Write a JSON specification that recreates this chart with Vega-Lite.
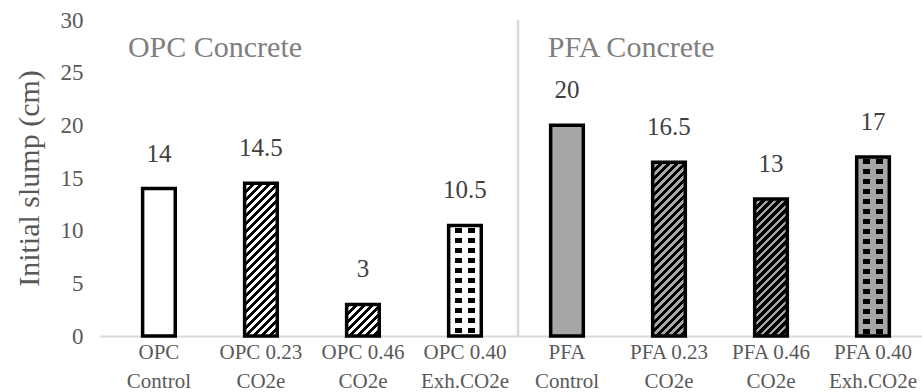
{
  "$schema": "https://vega.github.io/schema/vega-lite/v6.json",
  "width": 822,
  "height": 316,
  "autosize": {"type": "none"},
  "padding": {"left": 100, "top": 20, "right": 0, "bottom": 56},
  "background": "white",
  "config": {
    "view": {"stroke": null},
    "axis": {"grid": false, "ticks": false}
  },
  "params": [
    {"name": "fineStops", "value": [
      {"offset": 0, "color": "black"}, {"offset": 0.0148, "color": "black"}, {"offset": 0.0148, "color": "transparent"}, {"offset": 0.037, "color": "transparent"},
      {"offset": 0.037, "color": "black"}, {"offset": 0.0518, "color": "black"}, {"offset": 0.0518, "color": "transparent"}, {"offset": 0.0741, "color": "transparent"},
      {"offset": 0.0741, "color": "black"}, {"offset": 0.0889, "color": "black"}, {"offset": 0.0889, "color": "transparent"}, {"offset": 0.1111, "color": "transparent"},
      {"offset": 0.1111, "color": "black"}, {"offset": 0.1259, "color": "black"}, {"offset": 0.1259, "color": "transparent"}, {"offset": 0.1481, "color": "transparent"},
      {"offset": 0.1481, "color": "black"}, {"offset": 0.1629, "color": "black"}, {"offset": 0.1629, "color": "transparent"}, {"offset": 0.1852, "color": "transparent"},
      {"offset": 0.1852, "color": "black"}, {"offset": 0.2, "color": "black"}, {"offset": 0.2, "color": "transparent"}, {"offset": 0.2222, "color": "transparent"},
      {"offset": 0.2222, "color": "black"}, {"offset": 0.237, "color": "black"}, {"offset": 0.237, "color": "transparent"}, {"offset": 0.2593, "color": "transparent"},
      {"offset": 0.2593, "color": "black"}, {"offset": 0.2741, "color": "black"}, {"offset": 0.2741, "color": "transparent"}, {"offset": 0.2963, "color": "transparent"},
      {"offset": 0.2963, "color": "black"}, {"offset": 0.3111, "color": "black"}, {"offset": 0.3111, "color": "transparent"}, {"offset": 0.3333, "color": "transparent"},
      {"offset": 0.3333, "color": "black"}, {"offset": 0.3481, "color": "black"}, {"offset": 0.3481, "color": "transparent"}, {"offset": 0.3704, "color": "transparent"},
      {"offset": 0.3704, "color": "black"}, {"offset": 0.3852, "color": "black"}, {"offset": 0.3852, "color": "transparent"}, {"offset": 0.4074, "color": "transparent"},
      {"offset": 0.4074, "color": "black"}, {"offset": 0.4222, "color": "black"}, {"offset": 0.4222, "color": "transparent"}, {"offset": 0.4444, "color": "transparent"},
      {"offset": 0.4444, "color": "black"}, {"offset": 0.4592, "color": "black"}, {"offset": 0.4592, "color": "transparent"}, {"offset": 0.4815, "color": "transparent"},
      {"offset": 0.4815, "color": "black"}, {"offset": 0.4963, "color": "black"}, {"offset": 0.4963, "color": "transparent"}, {"offset": 0.5185, "color": "transparent"},
      {"offset": 0.5185, "color": "black"}, {"offset": 0.5333, "color": "black"}, {"offset": 0.5333, "color": "transparent"}, {"offset": 0.5556, "color": "transparent"},
      {"offset": 0.5556, "color": "black"}, {"offset": 0.5704, "color": "black"}, {"offset": 0.5704, "color": "transparent"}, {"offset": 0.5926, "color": "transparent"},
      {"offset": 0.5926, "color": "black"}, {"offset": 0.6074, "color": "black"}, {"offset": 0.6074, "color": "transparent"}, {"offset": 0.6296, "color": "transparent"},
      {"offset": 0.6296, "color": "black"}, {"offset": 0.6444, "color": "black"}, {"offset": 0.6444, "color": "transparent"}, {"offset": 0.6667, "color": "transparent"},
      {"offset": 0.6667, "color": "black"}, {"offset": 0.6815, "color": "black"}, {"offset": 0.6815, "color": "transparent"}, {"offset": 0.7037, "color": "transparent"},
      {"offset": 0.7037, "color": "black"}, {"offset": 0.7185, "color": "black"}, {"offset": 0.7185, "color": "transparent"}, {"offset": 0.7407, "color": "transparent"},
      {"offset": 0.7407, "color": "black"}, {"offset": 0.7555, "color": "black"}, {"offset": 0.7555, "color": "transparent"}, {"offset": 0.7778, "color": "transparent"},
      {"offset": 0.7778, "color": "black"}, {"offset": 0.7926, "color": "black"}, {"offset": 0.7926, "color": "transparent"}, {"offset": 0.8148, "color": "transparent"},
      {"offset": 0.8148, "color": "black"}, {"offset": 0.8296, "color": "black"}, {"offset": 0.8296, "color": "transparent"}, {"offset": 0.8519, "color": "transparent"},
      {"offset": 0.8519, "color": "black"}, {"offset": 0.8667, "color": "black"}, {"offset": 0.8667, "color": "transparent"}, {"offset": 0.8889, "color": "transparent"},
      {"offset": 0.8889, "color": "black"}, {"offset": 0.9037, "color": "black"}, {"offset": 0.9037, "color": "transparent"}, {"offset": 0.9259, "color": "transparent"},
      {"offset": 0.9259, "color": "black"}, {"offset": 0.9407, "color": "black"}, {"offset": 0.9407, "color": "transparent"}, {"offset": 0.963, "color": "transparent"},
      {"offset": 0.963, "color": "black"}, {"offset": 0.9778, "color": "black"}, {"offset": 0.9778, "color": "transparent"}, {"offset": 1, "color": "transparent"}
    ]},
    {"name": "boldStops", "value": [
      {"offset": 0, "color": "black"}, {"offset": 0.0222, "color": "black"}, {"offset": 0.0222, "color": "transparent"}, {"offset": 0.037, "color": "transparent"},
      {"offset": 0.037, "color": "black"}, {"offset": 0.0592, "color": "black"}, {"offset": 0.0592, "color": "transparent"}, {"offset": 0.0741, "color": "transparent"},
      {"offset": 0.0741, "color": "black"}, {"offset": 0.0963, "color": "black"}, {"offset": 0.0963, "color": "transparent"}, {"offset": 0.1111, "color": "transparent"},
      {"offset": 0.1111, "color": "black"}, {"offset": 0.1333, "color": "black"}, {"offset": 0.1333, "color": "transparent"}, {"offset": 0.1481, "color": "transparent"},
      {"offset": 0.1481, "color": "black"}, {"offset": 0.1703, "color": "black"}, {"offset": 0.1703, "color": "transparent"}, {"offset": 0.1852, "color": "transparent"},
      {"offset": 0.1852, "color": "black"}, {"offset": 0.2074, "color": "black"}, {"offset": 0.2074, "color": "transparent"}, {"offset": 0.2222, "color": "transparent"},
      {"offset": 0.2222, "color": "black"}, {"offset": 0.2444, "color": "black"}, {"offset": 0.2444, "color": "transparent"}, {"offset": 0.2593, "color": "transparent"},
      {"offset": 0.2593, "color": "black"}, {"offset": 0.2815, "color": "black"}, {"offset": 0.2815, "color": "transparent"}, {"offset": 0.2963, "color": "transparent"},
      {"offset": 0.2963, "color": "black"}, {"offset": 0.3185, "color": "black"}, {"offset": 0.3185, "color": "transparent"}, {"offset": 0.3333, "color": "transparent"},
      {"offset": 0.3333, "color": "black"}, {"offset": 0.3555, "color": "black"}, {"offset": 0.3555, "color": "transparent"}, {"offset": 0.3704, "color": "transparent"},
      {"offset": 0.3704, "color": "black"}, {"offset": 0.3926, "color": "black"}, {"offset": 0.3926, "color": "transparent"}, {"offset": 0.4074, "color": "transparent"},
      {"offset": 0.4074, "color": "black"}, {"offset": 0.4296, "color": "black"}, {"offset": 0.4296, "color": "transparent"}, {"offset": 0.4444, "color": "transparent"},
      {"offset": 0.4444, "color": "black"}, {"offset": 0.4666, "color": "black"}, {"offset": 0.4666, "color": "transparent"}, {"offset": 0.4815, "color": "transparent"},
      {"offset": 0.4815, "color": "black"}, {"offset": 0.5037, "color": "black"}, {"offset": 0.5037, "color": "transparent"}, {"offset": 0.5185, "color": "transparent"},
      {"offset": 0.5185, "color": "black"}, {"offset": 0.5407, "color": "black"}, {"offset": 0.5407, "color": "transparent"}, {"offset": 0.5556, "color": "transparent"},
      {"offset": 0.5556, "color": "black"}, {"offset": 0.5778, "color": "black"}, {"offset": 0.5778, "color": "transparent"}, {"offset": 0.5926, "color": "transparent"},
      {"offset": 0.5926, "color": "black"}, {"offset": 0.6148, "color": "black"}, {"offset": 0.6148, "color": "transparent"}, {"offset": 0.6296, "color": "transparent"},
      {"offset": 0.6296, "color": "black"}, {"offset": 0.6518, "color": "black"}, {"offset": 0.6518, "color": "transparent"}, {"offset": 0.6667, "color": "transparent"},
      {"offset": 0.6667, "color": "black"}, {"offset": 0.6889, "color": "black"}, {"offset": 0.6889, "color": "transparent"}, {"offset": 0.7037, "color": "transparent"},
      {"offset": 0.7037, "color": "black"}, {"offset": 0.7259, "color": "black"}, {"offset": 0.7259, "color": "transparent"}, {"offset": 0.7407, "color": "transparent"},
      {"offset": 0.7407, "color": "black"}, {"offset": 0.7629, "color": "black"}, {"offset": 0.7629, "color": "transparent"}, {"offset": 0.7778, "color": "transparent"},
      {"offset": 0.7778, "color": "black"}, {"offset": 0.8, "color": "black"}, {"offset": 0.8, "color": "transparent"}, {"offset": 0.8148, "color": "transparent"},
      {"offset": 0.8148, "color": "black"}, {"offset": 0.837, "color": "black"}, {"offset": 0.837, "color": "transparent"}, {"offset": 0.8519, "color": "transparent"},
      {"offset": 0.8519, "color": "black"}, {"offset": 0.8741, "color": "black"}, {"offset": 0.8741, "color": "transparent"}, {"offset": 0.8889, "color": "transparent"},
      {"offset": 0.8889, "color": "black"}, {"offset": 0.9111, "color": "black"}, {"offset": 0.9111, "color": "transparent"}, {"offset": 0.9259, "color": "transparent"},
      {"offset": 0.9259, "color": "black"}, {"offset": 0.9481, "color": "black"}, {"offset": 0.9481, "color": "transparent"}, {"offset": 0.963, "color": "transparent"},
      {"offset": 0.963, "color": "black"}, {"offset": 0.9852, "color": "black"}, {"offset": 0.9852, "color": "transparent"}, {"offset": 1, "color": "transparent"}
    ]},
    {"name": "rowStops", "value": [
      {"offset": 0, "color": "transparent"},
      {"offset": 0.0139, "color": "transparent"}, {"offset": 0.0139, "color": "black"}, {"offset": 0.0417, "color": "black"}, {"offset": 0.0417, "color": "transparent"},
      {"offset": 0.0695, "color": "transparent"}, {"offset": 0.0695, "color": "black"}, {"offset": 0.0973, "color": "black"}, {"offset": 0.0973, "color": "transparent"},
      {"offset": 0.125, "color": "transparent"}, {"offset": 0.125, "color": "black"}, {"offset": 0.1528, "color": "black"}, {"offset": 0.1528, "color": "transparent"},
      {"offset": 0.1806, "color": "transparent"}, {"offset": 0.1806, "color": "black"}, {"offset": 0.2084, "color": "black"}, {"offset": 0.2084, "color": "transparent"},
      {"offset": 0.2361, "color": "transparent"}, {"offset": 0.2361, "color": "black"}, {"offset": 0.2639, "color": "black"}, {"offset": 0.2639, "color": "transparent"},
      {"offset": 0.2917, "color": "transparent"}, {"offset": 0.2917, "color": "black"}, {"offset": 0.3195, "color": "black"}, {"offset": 0.3195, "color": "transparent"},
      {"offset": 0.3472, "color": "transparent"}, {"offset": 0.3472, "color": "black"}, {"offset": 0.375, "color": "black"}, {"offset": 0.375, "color": "transparent"},
      {"offset": 0.4028, "color": "transparent"}, {"offset": 0.4028, "color": "black"}, {"offset": 0.4306, "color": "black"}, {"offset": 0.4306, "color": "transparent"},
      {"offset": 0.4583, "color": "transparent"}, {"offset": 0.4583, "color": "black"}, {"offset": 0.4861, "color": "black"}, {"offset": 0.4861, "color": "transparent"},
      {"offset": 0.5139, "color": "transparent"}, {"offset": 0.5139, "color": "black"}, {"offset": 0.5417, "color": "black"}, {"offset": 0.5417, "color": "transparent"},
      {"offset": 0.5695, "color": "transparent"}, {"offset": 0.5695, "color": "black"}, {"offset": 0.5973, "color": "black"}, {"offset": 0.5973, "color": "transparent"},
      {"offset": 0.625, "color": "transparent"}, {"offset": 0.625, "color": "black"}, {"offset": 0.6528, "color": "black"}, {"offset": 0.6528, "color": "transparent"},
      {"offset": 0.6806, "color": "transparent"}, {"offset": 0.6806, "color": "black"}, {"offset": 0.7084, "color": "black"}, {"offset": 0.7084, "color": "transparent"},
      {"offset": 0.7361, "color": "transparent"}, {"offset": 0.7361, "color": "black"}, {"offset": 0.7639, "color": "black"}, {"offset": 0.7639, "color": "transparent"},
      {"offset": 0.7917, "color": "transparent"}, {"offset": 0.7917, "color": "black"}, {"offset": 0.8195, "color": "black"}, {"offset": 0.8195, "color": "transparent"},
      {"offset": 0.8472, "color": "transparent"}, {"offset": 0.8472, "color": "black"}, {"offset": 0.875, "color": "black"}, {"offset": 0.875, "color": "transparent"},
      {"offset": 0.9028, "color": "transparent"}, {"offset": 0.9028, "color": "black"}, {"offset": 0.9306, "color": "black"}, {"offset": 0.9306, "color": "transparent"},
      {"offset": 0.9583, "color": "transparent"}, {"offset": 0.9583, "color": "black"}, {"offset": 0.9861, "color": "black"}, {"offset": 0.9861, "color": "transparent"},
      {"offset": 1, "color": "transparent"}
    ]}
  ],
  "data": {"values": [
    {"group": "OPC", "mix": "OPC Control", "slump": 14},
    {"group": "OPC", "mix": "OPC 0.23 CO2e", "slump": 14.5},
    {"group": "OPC", "mix": "OPC 0.46 CO2e", "slump": 3},
    {"group": "OPC", "mix": "OPC 0.40 Exh.CO2e", "slump": 10.5},
    {"group": "PFA", "mix": "PFA Control", "slump": 20},
    {"group": "PFA", "mix": "PFA 0.23 CO2e", "slump": 16.5},
    {"group": "PFA", "mix": "PFA 0.46 CO2e", "slump": 13},
    {"group": "PFA", "mix": "PFA 0.40 Exh.CO2e", "slump": 17}
  ]},
  "encoding": {
    "x": {
      "field": "mix", "type": "nominal", "sort": null,
      "scale": {
        "domain": ["OPC Control", "OPC 0.23 CO2e", "OPC 0.46 CO2e", "OPC 0.40 Exh.CO2e", "PFA Control", "PFA 0.23 CO2e", "PFA 0.46 CO2e", "PFA 0.40 Exh.CO2e"],
        "paddingInner": 0.68, "paddingOuter": 0.369, "align": 0.566, "round": false
      },
      "axis": {
        "title": null, "labelAngle": 0, "labelFontSize": 21, "labelColor": "#595959", "labelFont": "Liberation Serif",
        "labelLineHeight": 29, "labelPadding": 5, "domainColor": "#d9d9d9", "domainWidth": 2,
        "labelExpr": "[slice(datum.value, 0, lastindexof(datum.value, ' ')), slice(datum.value, lastindexof(datum.value, ' ') + 1)]"
      }
    },
    "y": {
      "field": "slump", "type": "quantitative",
      "scale": {"domain": [0, 30], "nice": false},
      "axis": {
        "title": "Initial slump (cm)", "values": [0, 5, 10, 15, 20, 25, 30], "domain": false,
        "labelFontSize": 23, "labelColor": "#595959", "labelPadding": 17, "labelFont": "Liberation Serif",
        "titleFontSize": 30, "titleFontWeight": "normal", "titleColor": "#595959", "titlePadding": 16, "titleFont": "Liberation Serif"
      }
    }
  },
  "layer": [
    {
      "mark": {"type": "bar"},
      "encoding": {
        "fill": {"condition": {"test": "datum.group == 'PFA'", "value": "#a6a6a6"}, "value": "white"}
      }
    },
    {
      "transform": [{"filter": "datum.mix == 'OPC 0.23 CO2e'"}],
      "mark": {"type": "bar", "fill": {"expr": "{'gradient': 'linear', 'x1': 0, 'y1': 0, 'x2': 0.289, 'y2': 1.3525, 'stops': fineStops}"}}
    },
    {
      "transform": [{"filter": "datum.mix == 'OPC 0.46 CO2e'"}],
      "mark": {"type": "bar", "fill": {"expr": "{'gradient': 'linear', 'x1': 0, 'y1': 0, 'x2': 3.4158, 'y2': 3.307, 'stops': boldStops}"}}
    },
    {
      "transform": [{"filter": "datum.mix == 'PFA 0.23 CO2e'"}],
      "mark": {"type": "bar", "fill": {"expr": "{'gradient': 'linear', 'x1': 0, 'y1': 0, 'x2': 0.2255, 'y2': 1.2005, 'stops': fineStops}"}}
    },
    {
      "transform": [{"filter": "datum.mix == 'PFA 0.46 CO2e'"}],
      "mark": {"type": "bar", "fill": {"expr": "{'gradient': 'linear', 'x1': 0, 'y1': 0, 'x2': 0.3558, 'y2': 1.4926, 'stops': boldStops}"}}
    },
    {
      "transform": [{"filter": "datum.mix == 'OPC 0.40 Exh.CO2e'"}],
      "mark": {"type": "bar", "fill": {"expr": "{'gradient': 'linear', 'x1': 0, 'y1': 0, 'x2': 0, 'y2': 1.6275, 'stops': rowStops}"}}
    },
    {
      "transform": [{"filter": "datum.mix == 'PFA 0.40 Exh.CO2e'"}],
      "mark": {"type": "bar", "fill": {"expr": "{'gradient': 'linear', 'x1': 0, 'y1': 0, 'x2': 0, 'y2': 1.0052, 'stops': rowStops}"}}
    },
    {
      "transform": [{"filter": "datum.mix == 'OPC 0.40 Exh.CO2e'"}],
      "mark": {"type": "bar", "fill": {"gradient": "linear", "x1": 0, "y1": 0, "x2": 1, "y2": 0, "stops": [
        {"offset": 0, "color": "white"}, {"offset": 0.2, "color": "white"}, {"offset": 0.2, "color": "transparent"}, {"offset": 0.4, "color": "transparent"},
        {"offset": 0.4, "color": "white"}, {"offset": 0.6, "color": "white"}, {"offset": 0.6, "color": "transparent"}, {"offset": 0.8, "color": "transparent"},
        {"offset": 0.8, "color": "white"}, {"offset": 1, "color": "white"}
      ]}}
    },
    {
      "transform": [{"filter": "datum.mix == 'PFA 0.40 Exh.CO2e'"}],
      "mark": {"type": "bar", "fill": {"gradient": "linear", "x1": 0, "y1": 0, "x2": 1, "y2": 0, "stops": [
        {"offset": 0, "color": "#a6a6a6"}, {"offset": 0.2, "color": "#a6a6a6"}, {"offset": 0.2, "color": "transparent"}, {"offset": 0.4, "color": "transparent"},
        {"offset": 0.4, "color": "#a6a6a6"}, {"offset": 0.6, "color": "#a6a6a6"}, {"offset": 0.6, "color": "transparent"}, {"offset": 0.8, "color": "transparent"},
        {"offset": 0.8, "color": "#a6a6a6"}, {"offset": 1, "color": "#a6a6a6"}
      ]}}
    },
    {
      "mark": {"type": "bar", "fill": "transparent", "stroke": "black", "strokeWidth": 3.5}
    },
    {
      "mark": {"type": "text", "baseline": "alphabetic", "dy": -27, "fontSize": 25, "fill": "#404040", "font": "Liberation Serif"},
      "encoding": {"text": {"field": "slump", "type": "quantitative"}}
    },
    {
      "transform": [{"filter": "datum.mix == 'PFA Control'"}],
      "mark": {"type": "rule", "color": "#d9d9d9", "strokeWidth": 2.5},
      "encoding": {
        "x": {"field": "mix", "type": "nominal", "sort": null, "bandPosition": -1},
        "y": {"datum": 0},
        "y2": {"datum": 30}
      }
    },
    {
      "transform": [{"filter": "datum.mix == 'OPC Control'"}],
      "mark": {"type": "text", "align": "left", "baseline": "middle", "fontSize": 30, "fill": "#7f7f7f", "font": "Liberation Serif"},
      "encoding": {
        "x": {"field": "mix", "type": "nominal", "sort": null, "bandPosition": -0.45},
        "y": {"datum": 27.3},
        "text": {"value": "OPC Concrete"}
      }
    },
    {
      "transform": [{"filter": "datum.mix == 'PFA Control'"}],
      "mark": {"type": "text", "align": "left", "baseline": "middle", "fontSize": 30, "fill": "#7f7f7f", "font": "Liberation Serif"},
      "encoding": {
        "x": {"field": "mix", "type": "nominal", "sort": null, "bandPosition": -0.09},
        "y": {"datum": 27.3},
        "text": {"value": "PFA Concrete"}
      }
    }
  ]
}
